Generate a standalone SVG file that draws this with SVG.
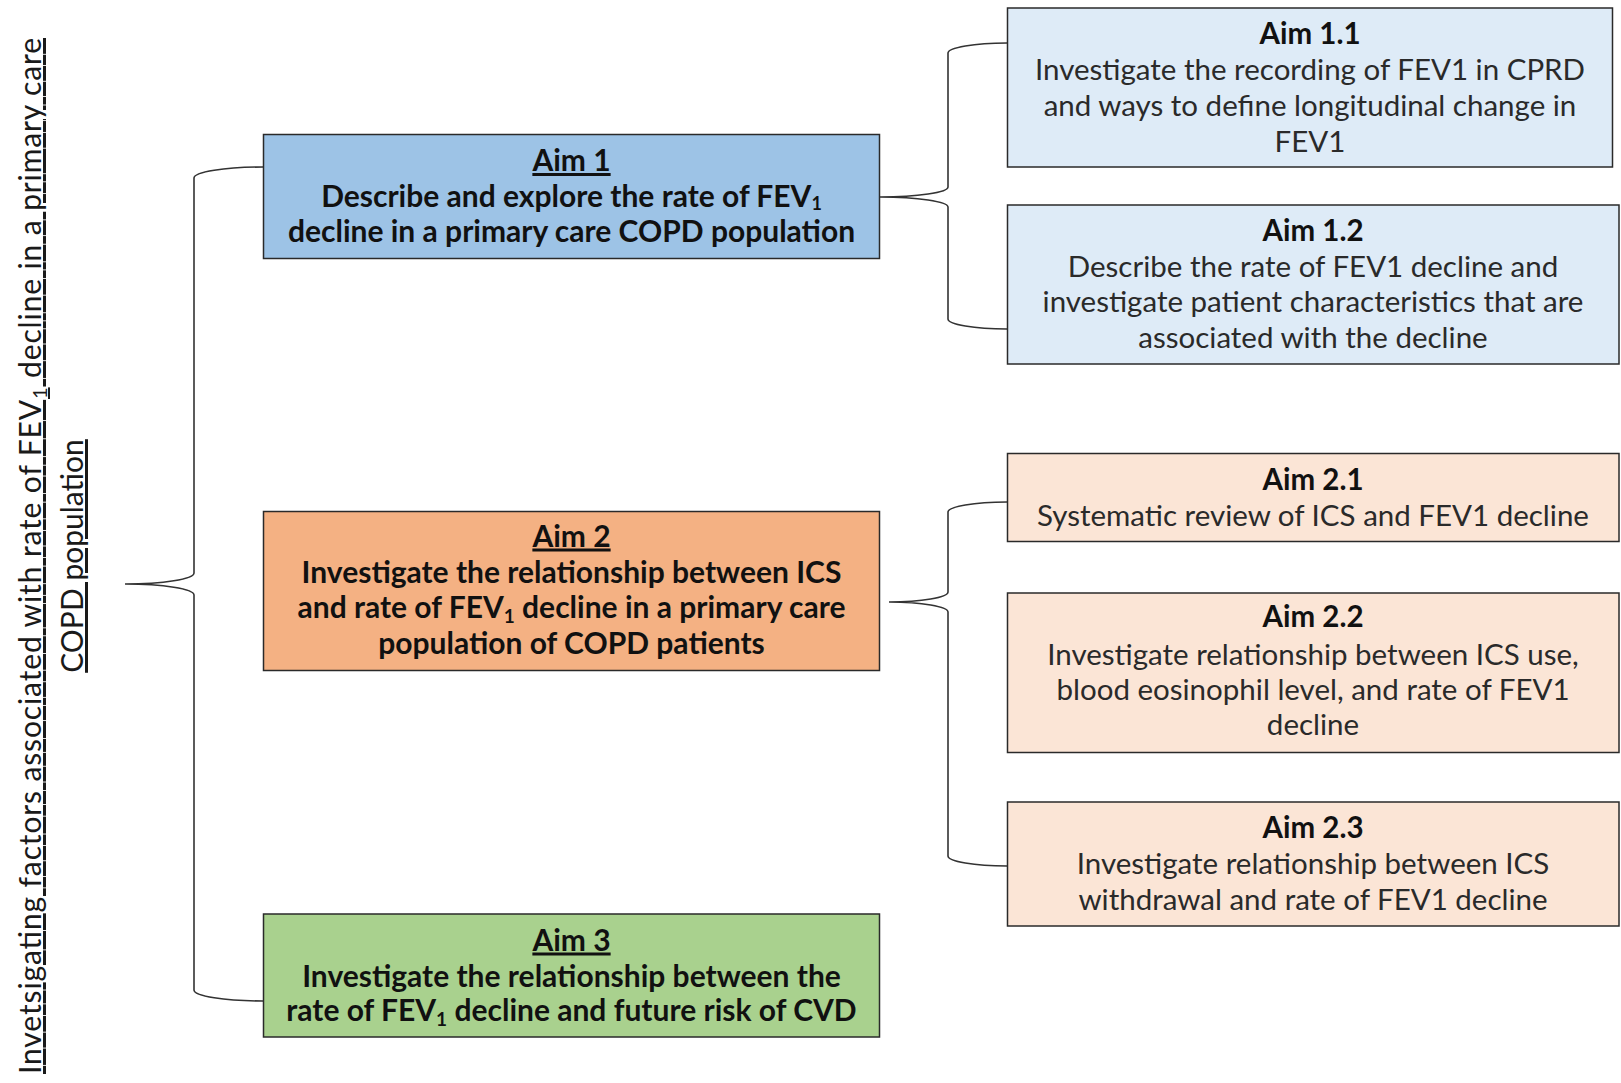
<svg xmlns="http://www.w3.org/2000/svg" width="1621" height="1083" viewBox="0 0 1621 1083">
  <style>
    .box { stroke: #2a2a2a; stroke-width: 1.5; }
    .b1 { fill: #9dc3e6; }
    .b2 { fill: #f4b183; }
    .b3 { fill: #a9d18e; }
    .s1 { fill: #deebf7; }
    .s2 { fill: #fbe5d6; }
    .brace { fill: none; stroke: #333333; stroke-width: 1.6; }
    text { font-family: Lato, "Open Sans", "Liberation Sans", sans-serif; text-anchor: middle; }
    .main { font-size: 30px; font-weight: bold; fill: #111111; }
    .head { font-size: 29.5px; font-weight: bold; fill: #111111; }
    .body { font-size: 29.5px; fill: #2a2a2a; }
    .title { font-size: 30px; fill: #1a1a1a; text-decoration: underline; }
    .u { text-decoration: underline; }
  </style>

  <!-- brackets joining the overall aim to its parts -->
  <g id="connectors">
    <path class="brace" d="M263 167 A69 11 0 0 0 194 178 L194 573 A69 11 0 0 1 125 584 A69 11 0 0 1 194 595 L194 990 A69 11 0 0 0 263 1001"/>
    <path class="brace" d="M1007 43 A59 10 0 0 0 948 53 L948 187 A68 10 0 0 1 880 197 A68 10 0 0 1 948 207 L948 319 A59 10 0 0 0 1007 329"/>
    <path class="brace" d="M1007 502 A59 10 0 0 0 948 512 L948 592 A59 10 0 0 1 889 602 A59 10 0 0 1 948 612 L948 856 A59 10 0 0 0 1007 866"/>
  </g>

  <!-- overall aim, written vertically -->
  <g id="title">
    <text class="title" transform="translate(41,556) rotate(-90)" textLength="1036" lengthAdjust="spacing">Invetsigating  factors  associated  with  rate  of  FEV<tspan dy="6" font-size="20">1</tspan><tspan dy="-6">  decline  in  a  primary  care</tspan></text>
    <text class="title" transform="translate(83,556) rotate(-90)">COPD population</text>
  </g>

  <g id="aim1">
    <rect class="box b1" x="263.5" y="134.5" width="616" height="124"/>
    <text class="main u" x="571.5" y="171">Aim 1</text>
    <text class="main" x="571.5" y="207">Describe and explore the rate of FEV<tspan dy="3" font-size="18">1</tspan></text>
    <text class="main" x="571.5" y="241.5">decline in a primary care COPD population</text>
  </g>

  <g id="aim2">
    <rect class="box b2" x="263.5" y="511.5" width="616" height="159"/>
    <text class="main u" x="571.5" y="546.5">Aim 2</text>
    <text class="main" x="571.5" y="582.5">Investigate the relationship between ICS</text>
    <text class="main" x="571.5" y="618">and rate of FEV<tspan dy="5" font-size="19">1</tspan><tspan dy="-5"> decline in a primary care</tspan></text>
    <text class="main" x="571.5" y="654">population of COPD patients</text>
  </g>

  <g id="aim3">
    <rect class="box b3" x="263.5" y="914" width="616" height="123"/>
    <text class="main u" x="571.5" y="950.5">Aim 3</text>
    <text class="main" x="571.5" y="987">Investigate the relationship between the</text>
    <text class="main" x="571.5" y="1021">rate of FEV<tspan dy="5" font-size="19">1</tspan><tspan dy="-5"> decline and future risk of CVD</tspan></text>
  </g>

  <g id="aim1-1">
    <rect class="box s1" x="1007.5" y="8" width="605" height="159"/>
    <text class="head" x="1310" y="44">Aim 1.1</text>
    <text class="body" x="1310" y="80">Investigate the recording of FEV1 in CPRD</text>
    <text class="body" x="1310" y="115.5">and ways to define longitudinal change in</text>
    <text class="body" x="1310" y="151.5">FEV1</text>
  </g>

  <g id="aim1-2">
    <rect class="box s1" x="1007.5" y="205" width="611.5" height="159"/>
    <text class="head" x="1313" y="240.5">Aim 1.2</text>
    <text class="body" x="1313" y="276.5">Describe the rate of FEV1 decline and</text>
    <text class="body" x="1313" y="312">investigate patient characteristics that are</text>
    <text class="body" x="1313" y="348">associated with the decline</text>
  </g>

  <g id="aim2-1">
    <rect class="box s2" x="1007.5" y="453.5" width="611.5" height="88"/>
    <text class="head" x="1313" y="489.5">Aim 2.1</text>
    <text class="body" x="1313" y="526">Systematic review of ICS and FEV1 decline</text>
  </g>

  <g id="aim2-2">
    <rect class="box s2" x="1007.5" y="593" width="611.5" height="159.5"/>
    <text class="head" x="1313" y="627">Aim 2.2</text>
    <text class="body" x="1313" y="664.5">Investigate relationship between ICS use,</text>
    <text class="body" x="1313" y="699.5">blood eosinophil level, and rate of FEV1</text>
    <text class="body" x="1313" y="734.5">decline</text>
  </g>

  <g id="aim2-3">
    <rect class="box s2" x="1007.5" y="802" width="611.5" height="124"/>
    <text class="head" x="1313" y="838">Aim 2.3</text>
    <text class="body" x="1313" y="874">Investigate relationship between ICS</text>
    <text class="body" x="1313" y="909.5">withdrawal and rate of FEV1 decline</text>
  </g>
</svg>
